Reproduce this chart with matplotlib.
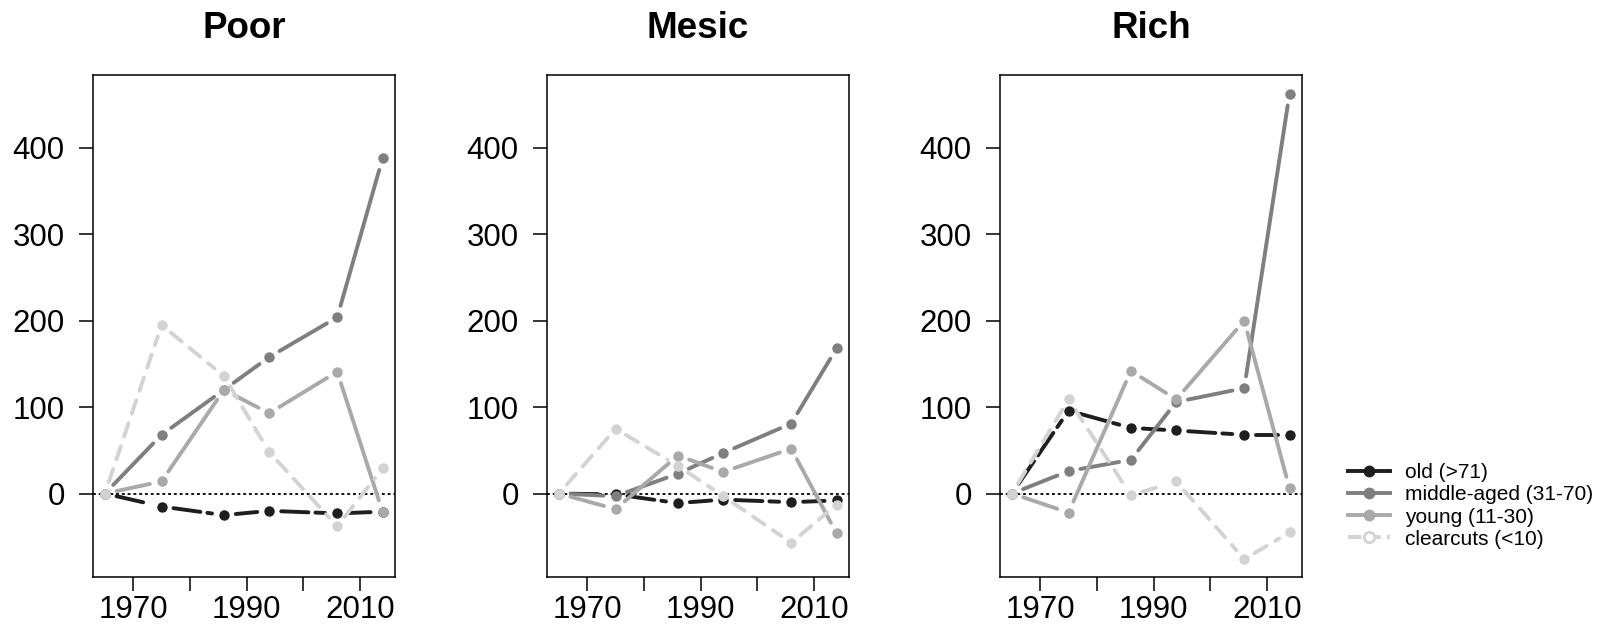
import matplotlib
matplotlib.use('Agg')
import matplotlib.pyplot as plt
from matplotlib.lines import Line2D
import numpy as np

plt.rcParams['font.family'] = ['Liberation Sans', 'DejaVu Sans']

years = [1965, 1975, 1986, 1994, 2006, 2014]
panels = ['Poor', 'Mesic', 'Rich']
series_labels = ['old (>71)', 'middle-aged (31-70)', 'young (11-30)', 'clearcuts (<10)']

poor_old = [0, -15, -25, -20, -23, -21]
poor_middle = [0, 68, 120, 158, 204, 388]
poor_young = [0, 14, 120, 93, 141, -21]
poor_clear = [0, 195, 136, 48, -38, 29]

mesic_old = [0, -1, -11, -7, -10, -8]
mesic_middle = [0, -3, 23, 47, 81, 168]
mesic_young = [0, -18, 44, 25, 52, -46]
mesic_clear = [0, 75, 32, -3, -57, -13]

rich_old = [0, 96, 76, 73, 68, 68]
rich_middle = [0, 26, 39, 106, 122, 463]
rich_young = [0, -22, 142, 109, 200, 6]
rich_clear = [0, 109, -2, 14, -76, -45]

data = {
    'Poor': [poor_old, poor_middle, poor_young, poor_clear],
    'Mesic': [mesic_old, mesic_middle, mesic_young, mesic_clear],
    'Rich': [rich_old, rich_middle, rich_young, rich_clear],
}

yticks = [0, 100, 200, 300, 400]
xticks_major = [1970, 1990, 2010]
xticks_minor = [1980, 2000]

colors = ['#1e1e1e', '#7f7f7f', '#a9a9a9', '#d3d3d3']
dash_styles = [(7, 1.8), None, None, (3.6, 2.6)]
LW = 2.8
MS = 7.5
GAP = 12

W, H = 1600, 629
fig = plt.figure(figsize=(W / 100, H / 100), dpi=100)

lefts = [93, 547, 1000]
pw = 302
top_px, bot_px = 75, 577
ph = bot_px - top_px


def draw_b(ax, x, y, color, dashes):
    trans = ax.transData
    inv = trans.inverted()
    pts = trans.transform(np.column_stack([x, y]))
    for i in range(len(pts) - 1):
        p0, p1 = pts[i], pts[i + 1]
        d = p1 - p0
        L = np.hypot(*d)
        if L <= 2 * GAP:
            continue
        u = d / L
        a = p0 + u * GAP
        b = p1 - u * GAP
        seg = inv.transform(np.vstack([a, b]))
        ln, = ax.plot(seg[:, 0], seg[:, 1], color=color, lw=LW,
                      solid_capstyle='round', dash_capstyle='round')
        if dashes:
            ln.set_dashes(dashes)
    ax.plot(x, y, 'o', color=color, ms=MS, mec='none', zorder=3)


for name, left in zip(panels, lefts):
    ax = fig.add_axes([left / W, 1 - bot_px / H, pw / W, ph / H])
    ax.set_xlim(1962.9, 2016.2)
    ax.set_ylim(-96.6, 484.5)
    ax.axhline(0, color='black', lw=1.3, ls=(0, (1.6, 1.6)), zorder=1)
    for vals, c, ds in zip(data[name], colors, dash_styles):
        draw_b(ax, years, vals, c, ds)
    ax.set_yticks(yticks)
    ax.set_yticklabels([str(v) for v in yticks])
    ax.set_xticks(xticks_major)
    ax.set_xticklabels([str(v) for v in xticks_major])
    ax.set_xticks(xticks_minor, minor=True)
    ax.tick_params(axis='both', which='both', direction='out', length=9.8,
                   width=1.1, labelsize=22.5)
    ax.tick_params(axis='y', pad=10.5)
    ax.tick_params(axis='x', which='both', pad=3.2)
    for s in ax.spines.values():
        s.set_linewidth(1.1)
    ax.text(0.5, 1 + (top_px - 38.5) / ph, name, transform=ax.transAxes,
            ha='center', va='baseline', fontsize=26.5, fontweight='bold')

handles = []
for c, ds, lab in zip(colors, dash_styles, series_labels):
    if lab.startswith('clear'):
        h = Line2D([0], [0], color=c, lw=LW, marker='o', ms=MS, mfc='white',
                   mec=c, mew=2, ls=(0, (3.5, 1.5)))
    else:
        h = Line2D([0], [0], color=c, lw=LW, marker='o', ms=MS, mfc=c, mec=c)
    handles.append(h)

fig.legend(handles, series_labels, loc='center left',
           bbox_to_anchor=(1348 / W, 1 - 506 / H), frameon=False, fontsize=15,
           handlelength=2.0, handletextpad=0.75, labelspacing=0.15,
           borderaxespad=0, borderpad=0)

fig.savefig('out.png', dpi=100)
